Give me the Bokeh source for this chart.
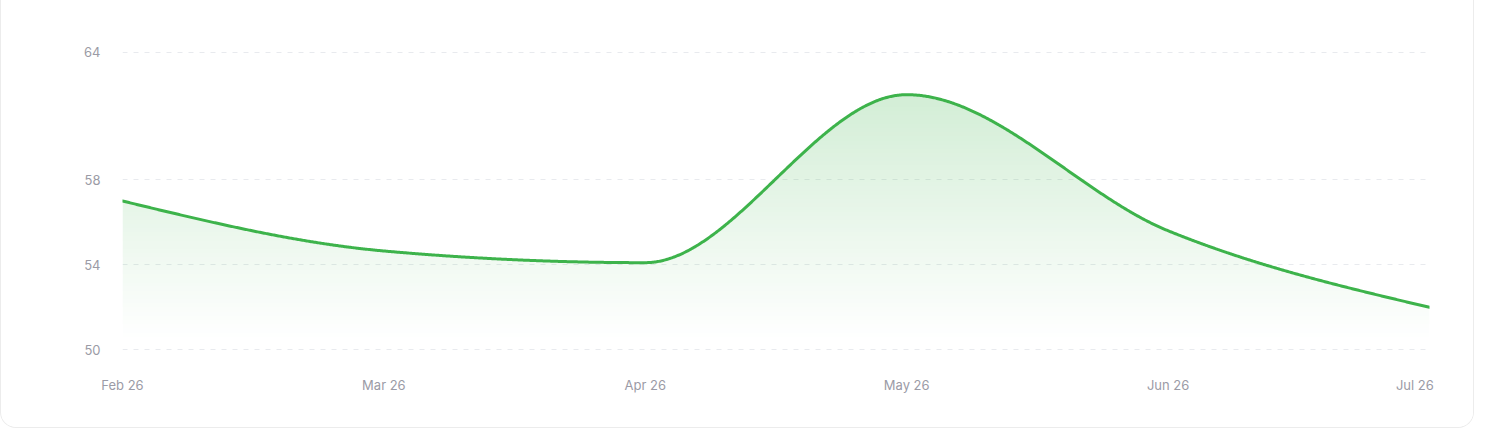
import numpy as np
from bokeh.plotting import figure
from bokeh.models import FixedTicker, Range1d
from bokeh.embed import file_html
from bokeh.resources import INLINE

# ---- data ----
months = ["Feb 26", "Mar 26", "Apr 26", "May 26", "Jun 26", "Jul 26"]
values = [57.0, 54.65, 54.1, 62.0, 55.6, 52.0]
y_ticks = [50, 54, 58, 64]

LINE = "#3db34b"
FILL_RGB = (61, 179, 75)
LABEL = "#9b9ba6"
FONT = "Inter"

# ---- monotone-x cubic (d3 curveMonotoneX) for drawing the smooth line ----
xs_pts = np.arange(len(values), dtype=float)
ys_pts = np.array(values, dtype=float)
sec = np.diff(ys_pts) / np.diff(xs_pts)
n = len(ys_pts)
m = np.zeros(n)
for i in range(1, n - 1):
    s0, s1 = sec[i - 1], sec[i]
    h0, h1 = xs_pts[i] - xs_pts[i - 1], xs_pts[i + 1] - xs_pts[i]
    p_ = (s0 * h1 + s1 * h0) / (h0 + h1)
    m[i] = (np.sign(s0) + np.sign(s1)) * min(abs(s0), abs(s1), 0.5 * abs(p_))
m[0] = (3 * sec[0] - m[1]) / 2
m[-1] = (3 * sec[-1] - m[-2]) / 2


def curve_at(x):
    x = np.asarray(x, dtype=float)
    i = np.clip(np.floor(x).astype(int), 0, n - 2)
    t = x - xs_pts[i]
    h = xs_pts[i + 1] - xs_pts[i]
    t = t / h
    h00 = 2 * t**3 - 3 * t**2 + 1
    h10 = t**3 - 2 * t**2 + t
    h01 = -2 * t**3 + 3 * t**2
    h11 = t**3 - t**2
    return h00 * ys_pts[i] + h10 * h * m[i] + h01 * ys_pts[i + 1] + h11 * h * m[i + 1]


xs = np.linspace(0, n - 1, 1200)
ys = curve_at(xs)

# ---- figure ----
W, H = 1474, 428
y0, y1 = min(y_ticks), max(y_ticks)
p = figure(width=W, height=H, output_backend="svg", toolbar_location=None,
           x_range=Range1d(0, n - 1), y_range=Range1d(y0 - 0.03, y1 + 0.03),
           min_border_left=121, min_border_right=46, min_border_top=51, min_border_bottom=78)
p.outline_line_color = None
p.background_fill_color = "white"
p.border_fill_color = "white"
p.styles = {"border-right": "1px solid #ececec", "border-bottom": "1px solid #ececec",
            "border-left": "1px solid #ececec",
            "border-radius": "0 0 16px 16px", "overflow": "hidden"}

# gradient area under the curve as an RGBA image
IW, IH = 1306, 600
gx = np.linspace(0, n - 1, IW)
gy = np.linspace(y0, y1, IH)
cv = curve_at(gx)
top = ys.max()
base = y0 + 0.47
alpha = 0.23 * np.clip((gy - base) / (top - base), 0, 1)
img = np.zeros((IH, IW), dtype=np.uint32)
view = img.view(dtype=np.uint8).reshape((IH, IW, 4))
mask = (gy[:, None] <= cv[None, :]) & (gy[:, None] >= base)
view[..., 0] = FILL_RGB[0]
view[..., 1] = FILL_RGB[1]
view[..., 2] = FILL_RGB[2]
view[..., 3] = np.where(mask, (alpha[:, None] * 255).round(), 0).astype(np.uint8)
p.image_rgba(image=[img], x=0, y=y0, dw=n - 1, dh=y1 - y0)

p.line(xs, ys, line_color=LINE, line_width=3, line_join="round", line_cap="round")

# axes
p.xaxis.ticker = FixedTicker(ticks=list(range(n)))
overrides = {i: lab for i, lab in enumerate(months)}
# keep the last label inside the card (trailing no-break spaces shift the centred text left)
overrides[n - 1] = months[-1] + "\u00a0" * 8
p.xaxis.major_label_overrides = overrides
p.yaxis.ticker = FixedTicker(ticks=y_ticks)
for ax in (p.xaxis[0], p.yaxis[0]):
    ax.axis_line_color = None
    ax.major_tick_line_color = None
    ax.minor_tick_line_color = None
    ax.major_tick_out = 0
    ax.major_tick_in = 0
    ax.major_label_text_color = LABEL
    ax.major_label_text_font = FONT
    ax.major_label_text_font_size = "13px"
p.xaxis.major_label_standoff = 26
p.yaxis.major_label_standoff = 22

p.xgrid.grid_line_color = None
p.ygrid.grid_line_color = "#e8eaee"
p.ygrid.grid_line_dash = "5 6"
p.ygrid.grid_line_width = 1

open("out.html", "w").write(file_html(p, INLINE))
